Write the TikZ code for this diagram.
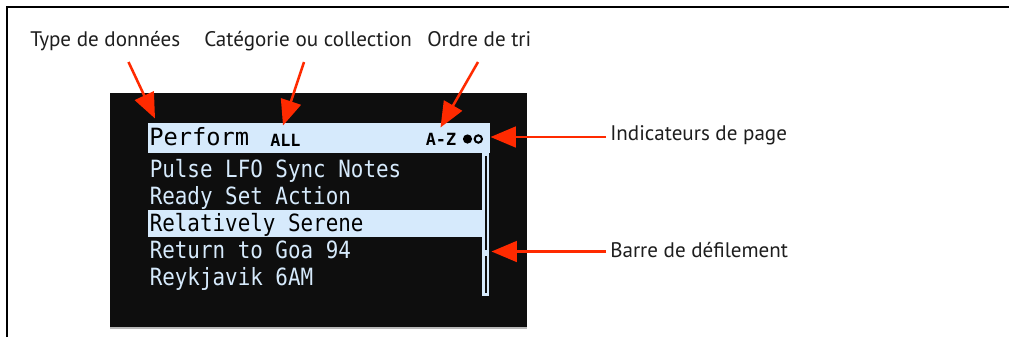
\documentclass[tikz,border=0pt]{standalone}
\usepackage{fontspec}
\setmainfont{PT Sans}
\newfontfamily\lcdfont[FakeStretch=0.88]{DejaVu Sans Mono}
\newfontfamily\lcdwide{DejaVu Sans Mono}
\usetikzlibrary{arrows.meta}
\definecolor{screenbg}{HTML}{0E0E0E}
\definecolor{lcdblue}{HTML}{D6EAFC}
\definecolor{callred}{HTML}{FF2A00}
\definecolor{labelink}{HTML}{1E1E1E}
\tikzset{
  label text/.style={anchor=base west, inner sep=0pt, text=labelink,
    font=\fontsize{15.8pt}{18pt}\selectfont},
  lcd line/.style={anchor=base west, inner sep=0pt, text=lcdblue,
    font=\lcdfont\fontsize{17.8pt}{20pt}\selectfont},
  lcd small/.style={anchor=base west, inner sep=0pt, text=black,
    font=\lcdwide\bfseries\fontsize{12.6pt}{14pt}\selectfont},
  callout/.style={draw=callred, line width=1.9pt,
    -{Triangle[length=19pt, width=15.5pt]}},
}
\begin{document}
\begin{tikzpicture}[x=0.75pt, y=-0.75pt]
  \useasboundingbox (0,0) rectangle (1009,337);
  \fill[white] (0,0) rectangle (1009,337);

  % outer frame: left and top rules only
  \draw[line width=1.5pt, black] (7,337) -- (7,7) -- (1009,7);

  % display panel
  \fill[screenbg] (110,93) rectangle (527,327);
  \fill[gray!55] (110,327) rectangle (527,328.6);

  % header bar and scroll bar
  \fill[lcdblue] (147.7,123.3) rectangle (490,153.3);
  \fill[lcdblue] (482,153) rectangle (489.3,295.5);
  \fill[screenbg] (484.5,156) rectangle (487,249.5);
  \fill[screenbg] (484.5,255.5) rectangle (487,293);

  % highlighted list row
  \fill[lcdblue] (147.7,210) rectangle (482,236.7);

  % header contents
  \node[lcd line, text=black, font=\lcdwide\fontsize{17.8pt}{20pt}\selectfont]
    (perform) at (149,145.5) {Perform};
  \node[lcd small] (all) at (270,146) {ALL};
  \node[lcd small] (sort) at (425.5,145.5) {A-Z};
  \fill[black] (467.5,139) circle[radius=4.6];
  \draw[black, line width=1.5pt] (478.3,139) circle[radius=3.7];
  \coordinate (pagedots) at (490.5,137);
  \coordinate (thumb) at (491.5,251.5);

  % list rows
  \node[lcd line] (row1) at (149.5,177.3) {Pulse LFO Sync Notes};
  \node[lcd line] (row2) at (149.5,204.2) {Ready Set Action};
  \node[lcd line, text=black] (row3) at (149.5,231.4) {Relatively Serene};
  \node[lcd line] (row4) at (149.5,258.6) {Return to Goa 94};
  \node[lcd line] (row5) at (149.5,285) {Reykjavik 6AM};

  % captions
  \node[label text] (ltype) at (30,46) {Type de données};
  \node[label text] (lcat) at (204,46) {Catégorie ou collection};
  \node[label text] (lsort) at (427,46) {Ordre de tri};
  \node[label text, anchor=west] (lpage) at (610,135) {Indicateurs de page};
  \node[label text, anchor=west] (lscroll) at (610,250) {Barre de défilement};

  % callout arrows
  \coordinate (s1) at (128.5,62);
  \coordinate (t1) at (155,118.5);
  \coordinate (s2) at (304,62);
  \coordinate (t2) at (283,125.5);
  \coordinate (s3) at (478,62);
  \coordinate (t3) at (440.5,127.5);
  \draw[callout] (s1) -- (t1);
  \draw[callout] (s2) -- (t2);
  \draw[callout] (s3) -- (t3);
  \draw[callout] (lpage.west -| 606,0) ++(0,2) -- (pagedots);
  \draw[callout] (lscroll.west -| 606,0) ++(0,1.5) -- (thumb);
\end{tikzpicture}
\end{document}
